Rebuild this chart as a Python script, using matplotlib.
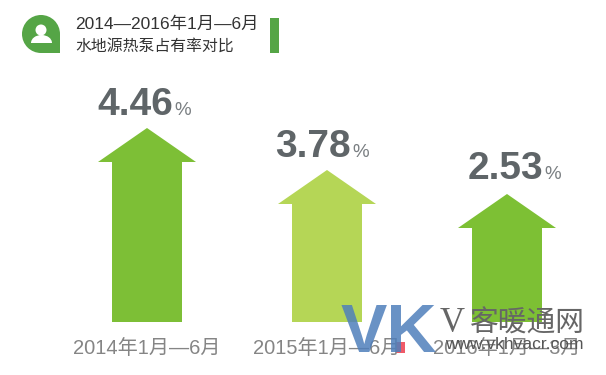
import matplotlib.pyplot as plt
from matplotlib.patches import Circle, Polygon, Rectangle, Ellipse

plt.rcParams['font.family'] = ['Liberation Sans', 'Noto Sans CJK SC', 'DejaVu Sans']

# --- data ---
periods = ['2014年1月—6月', '2015年1月—6月', '2016年1月—3月']
rates = ['4.46', '3.78', '2.53']
arrow_heights = [194, 152, 128]
arrow_colors = ['#7dbf36', '#b5d656', '#7dc034']
title_lines = ['2014—2016年1月—6月', '水地源热泵占有率对比']

GREY = '#5f6568'
LABEL_GREY = '#858585'
GREEN = '#55a546'
BASE_Y = 322
centers = [147, 327, 507]
label_centers = [147, 327, 507]
num_right = [173, 351, 543]
num_base = [115, 157, 179]

fig = plt.figure(figsize=(6.06, 3.75), dpi=100)
ax = fig.add_axes([0, 0, 1, 1])
ax.set_xlim(0, 606)
ax.set_ylim(375, 0)
ax.axis('off')


def draw_arrow(cx, height, color):
    top = BASE_Y - height
    shoulder = top + 34
    pts = [(cx, top), (cx + 49, shoulder), (cx + 35, shoulder), (cx + 35, BASE_Y),
           (cx - 35, BASE_Y), (cx - 35, shoulder), (cx - 49, shoulder)]
    ax.add_patch(Polygon(pts, closed=True, facecolor=color, edgecolor='none'))


# --- arrows, numbers and period labels ---
for i in range(len(rates)):
    draw_arrow(centers[i], arrow_heights[i], arrow_colors[i])
    ax.text(num_right[i], num_base[i], rates[i], ha='right', va='baseline',
            fontsize=28, fontweight='bold', color=GREY)
    ax.text(num_right[i] + 1, num_base[i], '%', ha='left', va='baseline',
            fontsize=13.5, color='#7a7f82')
    ax.text(label_centers[i], 349, periods[i], ha='center', va='center',
            fontsize=14.5, color=LABEL_GREY)

# --- header icon ---
ax.add_patch(Circle((41, 34), 19, facecolor=GREEN, edgecolor='none'))
ax.add_patch(Rectangle((41, 34), 19, 19, facecolor=GREEN, edgecolor='none'))
ax.add_patch(Circle((41, 30), 5.5, facecolor='white', edgecolor='none'))
body = Ellipse((41.5, 43), 21, 16, facecolor='white', edgecolor='none')
ax.add_patch(body)
body.set_clip_path(Rectangle((30, 35), 24, 8, transform=ax.transData))

# --- header text ---
ax.text(75, 24, title_lines[0], ha='left', va='center', fontsize=12.5, color='#333333')
ax.text(75, 46, title_lines[1], ha='left', va='center', fontsize=11.4, color='#333333')
ax.add_patch(Rectangle((270, 18), 9, 35, facecolor=GREEN, edgecolor='none'))

# --- watermark ---
ax.add_patch(Rectangle((396, 342), 9, 11, facecolor='#ef5a68', edgecolor='none'))
ax.text(341, 352, 'VK', ha='left', va='baseline', fontsize=50, fontweight='bold',
        color='#4f7fbb', alpha=0.85)
ax.text(440, 332, 'V', ha='left', va='baseline', fontsize=25, color='#666666',
        family=['Liberation Serif', 'DejaVu Serif'])
ax.text(470, 332, '客暖通网', ha='left', va='baseline', fontsize=20.7, color='#666666')
ax.text(445, 349, 'www.vkhvacr.com', ha='left', va='baseline', fontsize=12.5,
        color='#555555')

fig.savefig('out.png', dpi=100)
